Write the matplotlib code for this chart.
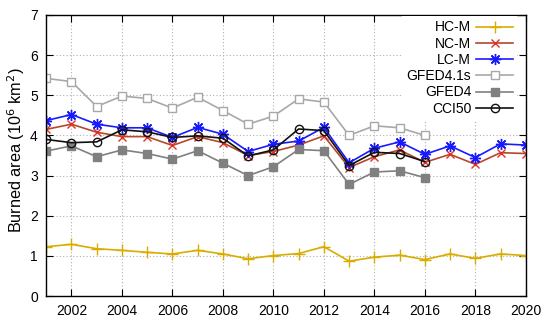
import numpy as np
import matplotlib
matplotlib.use("Agg")
import matplotlib.pyplot as plt

plt.rcParams["font.family"] = ["Liberation Sans", "DejaVu Sans"]

years = list(range(2001, 2021))
years_obs = list(range(2001, 2017))

hc_m = [1.23, 1.29, 1.18, 1.14, 1.09, 1.05, 1.14, 1.05, 0.93, 1.01,
        1.06, 1.23, 0.87, 0.97, 1.02, 0.91, 1.05, 0.94, 1.05, 1.01]
nc_m = [4.15, 4.28, 4.08, 3.97, 3.97, 3.75, 3.97, 3.82, 3.50, 3.60,
        3.76, 3.99, 3.20, 3.47, 3.64, 3.33, 3.53, 3.28, 3.57, 3.55]
lc_m = [4.37, 4.52, 4.28, 4.19, 4.19, 3.95, 4.20, 4.03, 3.60, 3.78,
        3.86, 4.20, 3.32, 3.68, 3.84, 3.53, 3.74, 3.45, 3.79, 3.76]
gfed41s = [5.42, 5.34, 4.72, 4.98, 4.92, 4.68, 4.95, 4.62, 4.28, 4.48,
           4.91, 4.83, 4.00, 4.24, 4.19, 4.00]
gfed4 = [3.61, 3.74, 3.47, 3.64, 3.55, 3.41, 3.62, 3.31, 3.00, 3.22,
         3.65, 3.62, 2.78, 3.09, 3.12, 2.95]
cci50 = [3.90, 3.82, 3.84, 4.14, 4.09, 3.95, 3.99, 3.93, 3.49, 3.64,
         4.16, 4.12, 3.25, 3.58, 3.55, 3.35]

fig = plt.figure(figsize=(5.5, 3.24), dpi=100)
ax = fig.add_axes([0.084, 0.086, 0.872, 0.868])

lw = 1.2
ax.plot(years, hc_m, color="#d9ad00", marker="+", ms=8, mew=1.0, lw=lw, label="HC-M")
ax.plot(years, nc_m, color="#b5482a", marker="x", ms=6, mew=1.0, mec="#e03020", lw=lw, label="NC-M")
ax.plot(years, lc_m, color="#1a1aff", marker=(8, 2, 0), ms=8, mew=1.0, lw=lw, label="LC-M")
ax.plot(years_obs, gfed41s, color="#a8a8a8", marker="s", ms=6, mfc="white", mew=1.0, lw=lw, label="GFED4.1s")
ax.plot(years_obs, gfed4, color="#808080", marker="s", ms=6, lw=lw, label="GFED4")
ax.plot(years_obs, cci50, color="#111111", marker="o", ms=6, mfc="none", mew=1.0, lw=lw, label="CCI50")

ax.set_xlim(2001, 2020)
ax.set_ylim(0, 7)
ax.set_xticks(range(2002, 2021, 2))
ax.set_yticks(range(0, 8))
ax.tick_params(direction="in", top=True, right=True, length=5, labelsize=10, pad=6)
ax.grid(True, color="#b0b0b0", linestyle=(0, (1, 2)), linewidth=0.8)
ax.set_ylabel("Burned area (10$^6$ km$^2$)", fontsize=11.7)
ax.yaxis.set_label_coords(-0.040, 0.52)
for s in ax.spines.values():
    s.set_linewidth(1.0)

leg = ax.legend(loc="upper right", bbox_to_anchor=(0.982, 0.995), borderaxespad=0,
                frameon=True, markerfirst=False, fontsize=10, handlelength=2.65,
                handletextpad=0.36, labelspacing=0.16, borderpad=0.3,
                fancybox=False, edgecolor="none")
leg.get_frame().set_facecolor("white")
leg.get_frame().set_alpha(1.0)

# right-align legend rows (text right-justified against the sample lines)
for col in leg._legend_handle_box.get_children():
    col.align = "right"

fig.savefig("out.png", dpi=100)
